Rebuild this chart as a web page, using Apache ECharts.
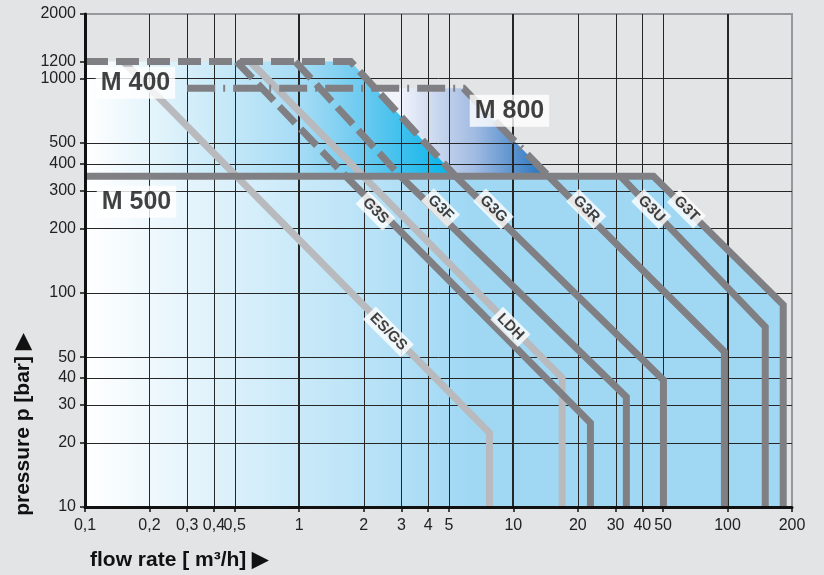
<!DOCTYPE html>
<html><head><meta charset="utf-8">
<script src="https://cdn.jsdelivr.net/npm/echarts@6/dist/echarts.min.js"></script>
<style>html,body{margin:0;padding:0;background:#e3e4e6}#c{width:824px;height:575px}</style>
</head><body><div id="c"></div>
<script>
// ---- axis ticks & grid ----
const xTicks = [0.1,0.2,0.3,0.4,0.5,1,2,3,4,5,10,20,30,40,50,100,200];
const yTicks = [10,20,30,40,50,100,200,300,400,500,1000,1200,2000];
const xGrid = [0.2,0.3,0.4,0.5,1,2,3,4,5,10,20,30,40,50,100];
const xGridBold = [1,10,100];
const yGrid = [20,30,40,50,100,200,300,400,500,1000];

// ---- operating limit lines [flow m3/h, pressure bar] ----
const m400Limit = [[0.1,1200],[1.74,1200],[5.37,350]];
const m800Limit = [[0.3,900],[5.85,900],[14.6,350]];
const esgs = [[0.151,1200],[7.73,22.2],[7.73,10]];
const ldh = [[0.59,1200],[16.9,40],[16.9,10]];
const g3sUpper = [[0.51,1200],[1.65,350]];
const g3s = [[1.65,350],[22.9,24.7],[22.9,10]];
const g3fUpper = [[0.96,1200],[2.97,350]];
const g3f = [[2.97,350],[33.7,32.6],[33.7,10]];
const g3g = [[5.37,350],[50.2,39.2],[50.2,10]];
const g3r = [[14.6,350],[96.7,53],[96.7,10]];
const g3u = [[31.6,350],[150,69.3],[150,10]];
const g3t = [[0.1,350],[45.1,350],[182,87.8],[182,10]];

// ---- filled ranges ----
const areaM500 = [[0.1,10],[0.1,350],[45.1,350],[182,87.8],[182,10]];
const areaM800 = [[0.1,350],[0.1,900],[5.85,900],[14.6,350]];
const areaM400 = [[0.1,350],[0.1,1200],[1.74,1200],[5.37,350]];

// ---- labels ----
const curveLabels = [['ES/GS',2.61,65.7],['LDH',9.69,69.3],['G3S',2.27,241],['G3F',4.57,249],
  ['G3G',8.07,246],['G3R',21.9,246],['G3U',44.1,246],['G3T',64.3,246]];
const rangeLabels = [['M 400',0.172,956],['M 500',0.174,266],['M 800',9.59,707]];

const L = Math.log10;
const toLog = a => a.map(p => [L(p[0]), L(p[1])]);
const DARK = '#808084', LIGHT = '#b9babd';
const fmt = ticks => v => {
  let best = ticks.reduce((a,b) => Math.abs(L(b)-v) < Math.abs(L(a)-v) ? b : a);
  return String(best).replace('.', ',');
};
const FONT = 'Liberation Sans, Arial, sans-serif';

const chart = echarts.init(document.getElementById('c'), null, {renderer:'canvas'});

function lineSeries(data, color, type, z) {
  return {type:'line', data: toLog(data), symbol:'none', z: z||3, silent:true, animation:false,
    lineStyle:{color, width:7, type: type||'solid', cap:'butt', join:'miter'}};
}

const option = {
  backgroundColor:'#e3e4e6',
  animation:false,
  grid:{left:85, right:32, top:14, bottom:68, show:true, borderColor:'#98989c', borderWidth:2, backgroundColor:'transparent'},
  xAxis:{type:'value', min:L(0.1), max:L(200), z:10,
    axisLine:{show:true, onZero:false, lineStyle:{color:'#111', width:3}},
    axisTick:{show:true, customValues:xTicks.map(L), length:5, lineStyle:{color:'#111', width:1.5}},
    axisLabel:{customValues:xTicks.map(L), formatter:fmt(xTicks), fontSize:16, color:'#222', margin:11, fontFamily:FONT},
    splitLine:{show:false}},
  yAxis:{type:'value', min:L(10), max:L(2000), z:10,
    axisLine:{show:true, onZero:false, lineStyle:{color:'#111', width:3}},
    axisTick:{show:true, customValues:yTicks.map(L), length:5, lineStyle:{color:'#111', width:1.5}},
    axisLabel:{customValues:yTicks.map(L), formatter:fmt(yTicks), fontSize:16, color:'#222', margin:9, fontFamily:FONT},
    splitLine:{show:false}},
  graphic:[
    {type:'text', left:90, top:550, style:{text:'flow rate [ m³/h] ▶', font:'bold 21px '+FONT, fill:'#111'}},
    {type:'text', x:23, y:425, rotation:Math.PI/2, style:{text:'pressure p [bar] ▶', font:'bold 21px '+FONT, fill:'#111', align:'center', verticalAlign:'middle'}}
  ],
  series:[
    {type:'custom', z:1, silent:true, data:[[L(0.1),L(10)]],
      renderItem:(params, api) => {
        const poly = (area, g0, g1, stops) => {
          const pts = area.map(p => api.coord([L(p[0]), L(p[1])]));
          const x0 = api.coord([L(g0), L(10)])[0], x1 = api.coord([L(g1), L(10)])[0];
          return {type:'polygon', shape:{points:pts},
            style:{fill:new echarts.graphic.LinearGradient(x0,0,x1,0,stops,true)}};
        };
        return {type:'group', children:[
          poly(areaM500, 0.1, 182, [{offset:0,color:'#ffffff'},{offset:0.55,color:'#a0d8f4'},{offset:1,color:'#a0d8f4'}]),
          poly(areaM800, 2.9, 14.6, [{offset:0,color:'#f2f4fb'},{offset:0.5,color:'#a3bce3'},{offset:1,color:'#1b6fbd'}]),
          poly(areaM400, 0.1, 5.37, [{offset:0,color:'#ffffff'},{offset:0.3,color:'#d2edf9'},{offset:0.58,color:'#a6dcf5'},{offset:0.75,color:'#6ccaf0'},{offset:1,color:'#00b3e9'}])
        ]};
      }},
    {type:'custom', z:2, silent:true, data:[[L(0.1),L(10)]],
      renderItem:(params, api) => {
        const ch = [];
        xGrid.forEach(v => {
          const bold = xGridBold.includes(v);
          const a = api.coord([L(v), L(10)]), b = api.coord([L(v), L(2000)]);
          const x = bold ? Math.round(a[0]) : Math.round(a[0]) + 0.5;
          ch.push({type:'line', shape:{x1:x, y1:a[1], x2:x, y2:b[1]}, style:{stroke:'#262626', lineWidth: bold ? 2 : 1}});
        });
        yGrid.forEach(v => {
          const a = api.coord([L(0.1), L(v)]), b = api.coord([L(200), L(v)]);
          const y = Math.round(a[1]) + 0.5;
          ch.push({type:'line', shape:{x1:a[0], y1:y, x2:b[0], y2:y}, style:{stroke:'#262626', lineWidth:1}});
        });
        return {type:'group', children:ch};
      }},
    lineSeries(esgs, LIGHT),
    lineSeries(ldh, LIGHT),
    lineSeries(g3sUpper, DARK, [23,8]),
    lineSeries(g3fUpper, DARK, [23,8]),
    lineSeries(m800Limit, DARK, [28,8,2,8]),
    lineSeries(m400Limit, DARK, [23,8]),
    lineSeries(g3s, DARK),
    lineSeries(g3f, DARK),
    lineSeries(g3g, DARK),
    lineSeries(g3r, DARK),
    lineSeries(g3u, DARK),
    lineSeries(g3t, DARK),
    {type:'scatter', z:6, silent:true, symbolSize:0,
      data: curveLabels.map(d => ({name:d[0], value:[L(d[1]), L(d[2])]})),
      label:{show:true, position:'inside', formatter:'{b}', rotate:-45, backgroundColor:'#ffffff',
        padding:[2,4,1,4], fontSize:15, fontWeight:'bold', color:'#111', fontFamily:FONT}},
    {type:'scatter', z:7, silent:true, symbolSize:0,
      data: rangeLabels.map(d => ({name:d[0], value:[L(d[1]), L(d[2])]})),
      label:{show:true, position:'inside', formatter:'{b}', backgroundColor:'#ffffff',
        padding:[4,5,3,5], fontSize:25, fontWeight:'bold', color:'#111', fontFamily:FONT}}
  ]
};
chart.setOption(option);
</script></body></html>
